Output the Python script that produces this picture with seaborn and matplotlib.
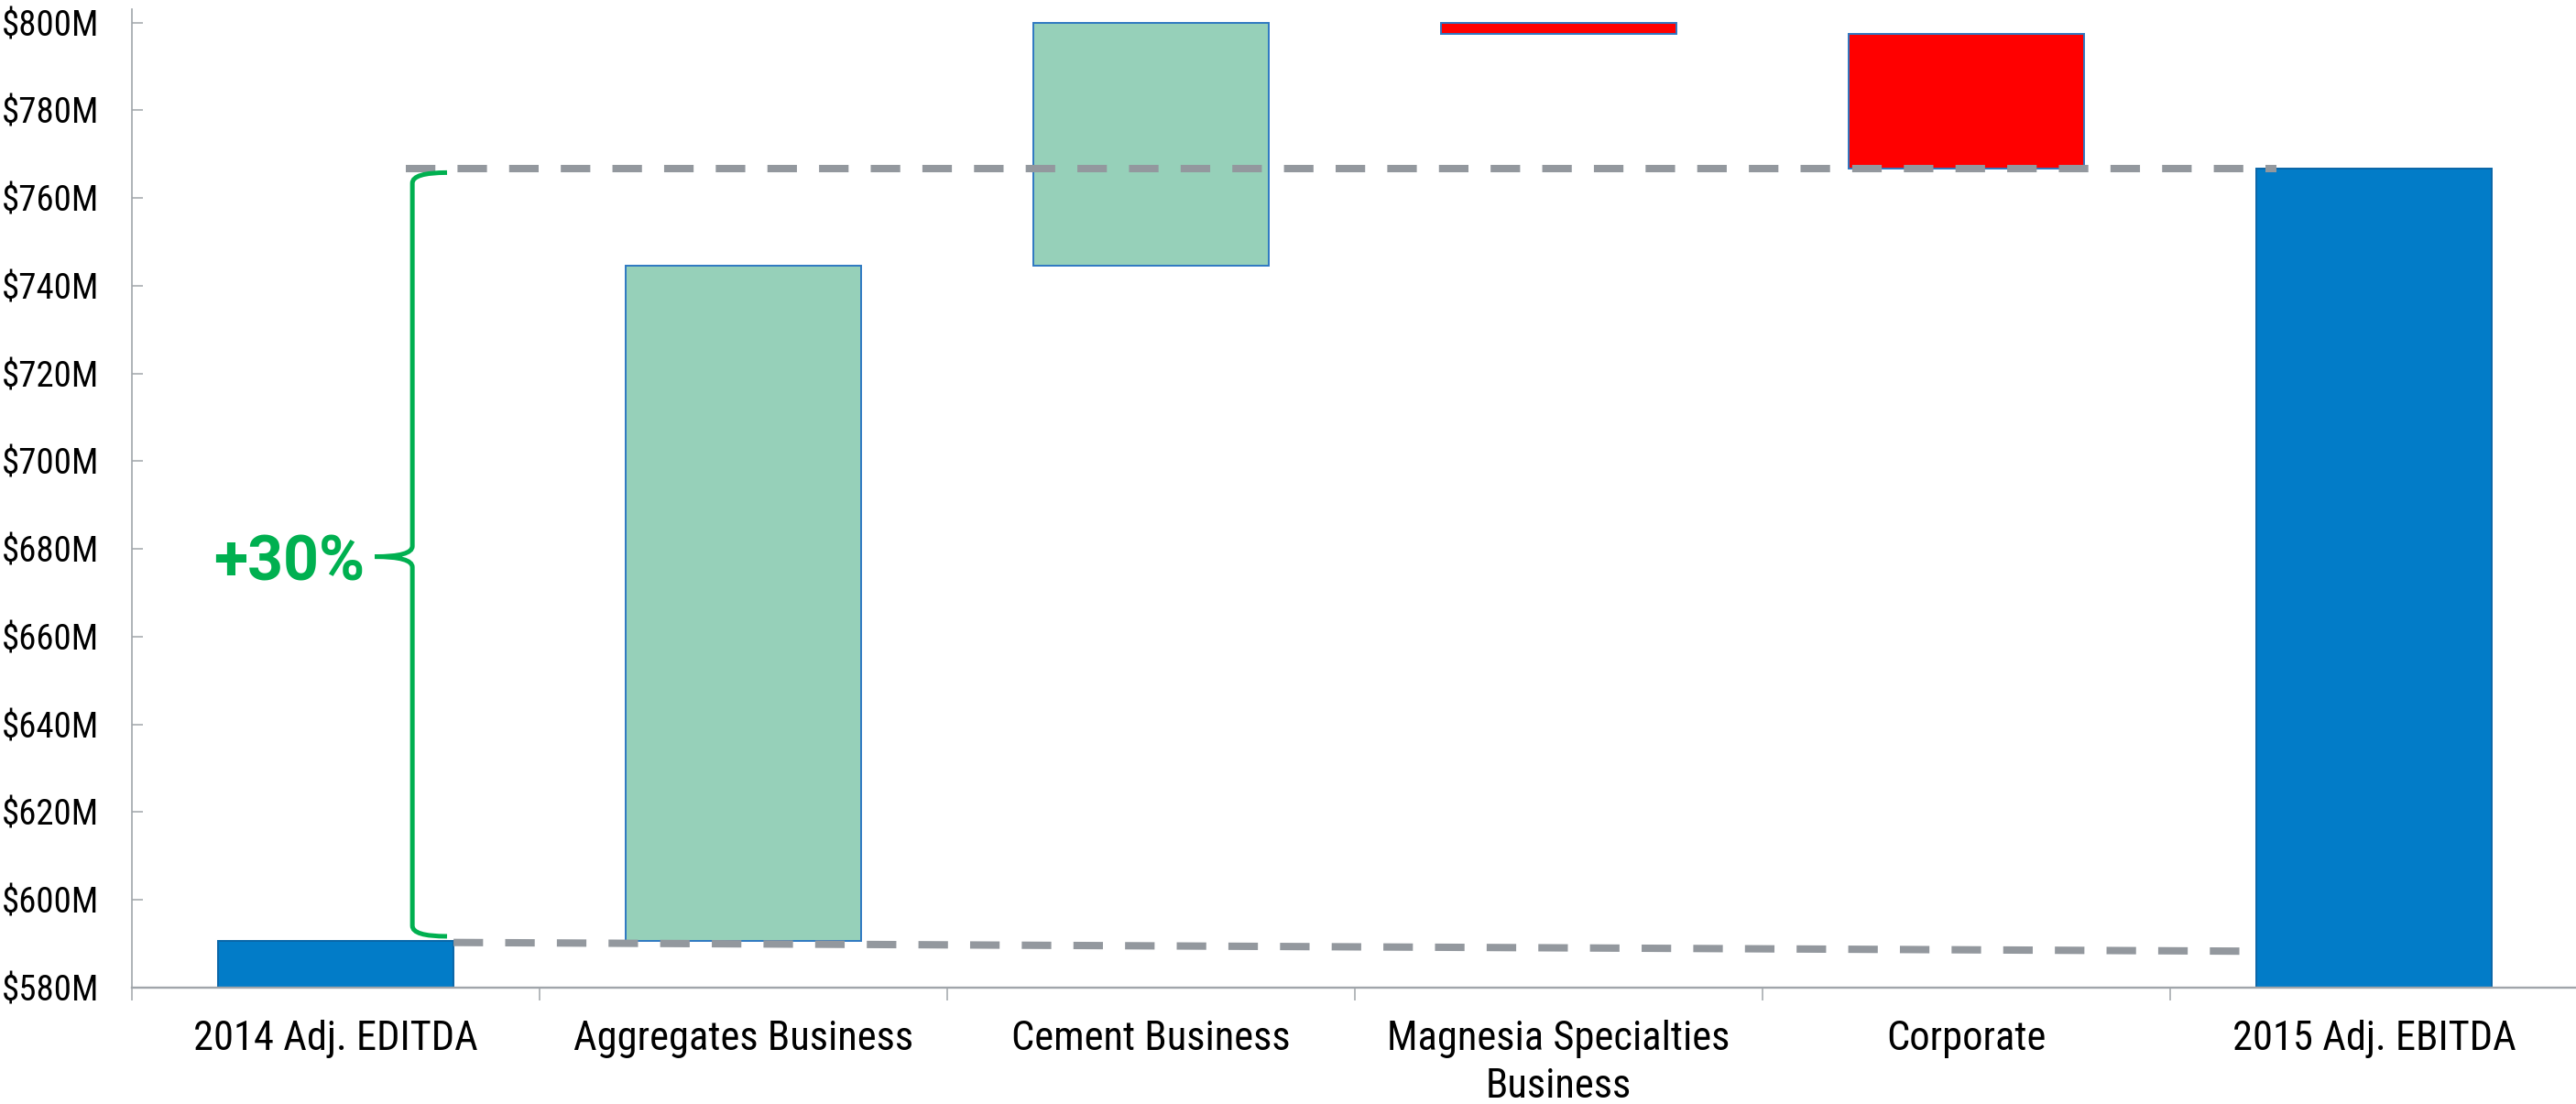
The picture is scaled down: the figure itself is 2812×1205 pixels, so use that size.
import matplotlib
matplotlib.use("Agg")
import matplotlib.pyplot as plt
from matplotlib.path import Path
from matplotlib.patches import PathPatch
from matplotlib import font_manager
import seaborn as sns
import numpy as np
import pandas as pd

# ---------------- data ----------------
categories = ["2014 Adj. EDITDA", "Aggregates Business", "Cement Business",
              "Magnesia Specialties\nBusiness", "Corporate", "2015 Adj. EBITDA"]
start_total = 590.7            # $M
changes = [153.9, 55.4, -2.5, -30.7]   # $M
end_total = 766.8              # $M
y_ticks = [580, 600, 620, 640, 660, 680, 700, 720, 740, 760, 780, 800]
y_tick_labels = [f"${v}M" for v in y_ticks]
growth_label = "+30%"

# ---------------- derived waterfall geometry ----------------
levels = np.concatenate([[start_total], start_total + np.cumsum(changes)])
bottoms = [580] + list(levels[:-1]) + [580]
heights = [start_total - 580] + list(changes) + [end_total - 580]
df = pd.DataFrame({"category": categories, "height": heights})

face_colors = ["#027CC8", "#96D0B9", "#96D0B9", "#FF0000", "#FF0000", "#027CC8"]
edge_colors = ["#0A66A8", "#2E78C2", "#2E78C2", "#2E78C2", "#2E78C2", "#0A66A8"]

# ---------------- fonts ----------------
fonts = font_manager.fontManager.ttflist
names = {f.name for f in fonts}
if "Liberation Sans Narrow" in names:
    label_font, ysize, xsize = "Liberation Sans Narrow", 30, 33
elif "Roboto Condensed" in names:
    label_font, ysize, xsize = "Roboto Condensed", 28, 32
else:
    label_font, ysize, xsize = "Roboto", 24.5, 28.5

bold_font = "DejaVu Sans"
for cand in ["Roboto", "Open Sans", "Lato", "Noto Sans"]:
    if any(f.name == cand and (f.weight == "bold" or (isinstance(f.weight, int) and f.weight >= 700))
           for f in fonts):
        bold_font = cand
        break

sns.set_theme(style="white")
plt.rcParams["font.family"] = [label_font, "DejaVu Sans"]

W, H = 2812, 1205
fig = plt.figure(figsize=(W / 100, H / 100), dpi=100)
left_px, right_px, top_px, bottom_px = 144, 2814, 10, 1078
ax = fig.add_axes([left_px / W, (H - bottom_px) / H,
                   (right_px - left_px) / W, (bottom_px - top_px) / H])

bar_w = 0.578
sns.barplot(data=df, x="category", y="height", bottom=bottoms, width=bar_w,
            errorbar=None, ax=ax, order=categories, color=face_colors[0],
            saturation=1)
for p, fc, ec in zip(ax.patches, face_colors, edge_colors):
    p.set_facecolor(fc)
    p.set_edgecolor(ec)
    p.set_linewidth(1.4)
    p.set_zorder(2)

px_per_M = 4.788
ax.set_xlim(-0.5, 5.5)
ax.set_ylim(580, 580 + (bottom_px - top_px) / px_per_M)

# ---------------- axes styling ----------------
gray = "#A0A5AA"
for s in ["top", "right"]:
    ax.spines[s].set_visible(False)
ax.spines["left"].set_color(gray)
ax.spines["left"].set_linewidth(1.2)
ax.spines["bottom"].set_color(gray)
ax.spines["bottom"].set_linewidth(1.7)

ax.set_yticks(y_ticks)
ax.set_yticklabels(y_tick_labels)
ax.tick_params(axis="y", direction="in", length=8.6, width=1.1, color=gray,
               pad=26, labelsize=ysize, labelcolor="black", left=True)

ax.set_xticks(range(len(categories)))
ax.set_xticklabels(categories, linespacing=1.3)
ax.tick_params(axis="x", which="major", length=0, pad=25, labelsize=xsize,
               labelcolor="black")
ax.set_xticks(np.arange(-0.5, len(categories) - 0.5, 1.0), minor=True)
ax.tick_params(axis="x", which="minor", direction="out", length=10, width=1.1,
               color=gray, bottom=True)
ax.set_xlabel("")
ax.set_ylabel("")
ax.grid(False)

# ---------------- connector dashed lines ----------------
dash_gray = "#93989E"
half = bar_w / 2
ax.plot([0.172, len(categories) - 1 - half + 0.05], [end_total, end_total],
        color=dash_gray, lw=5.8, dashes=(4, 3), zorder=3, dash_capstyle="butt")
ax.plot([half, len(categories) - 1 - half], [start_total - 0.4, start_total - 2.4],
        color=dash_gray, lw=5.8, dashes=(4, 3), zorder=3, dash_capstyle="butt")

# ---------------- brace + label ----------------
green = "#00B050"
xv, xe, xt = 0.188, 0.273, 0.096
y_top, y_bot = end_total - 1.0, start_total + 1.0
y_mid = (y_top + y_bot) / 2 - 0.5
c = 2.4
verts = [(xe, y_top), (xv, y_top), (xv, y_top - c),
         (xv, y_mid + c),
         (xv, y_mid), (xt, y_mid),
         (xt, y_mid), (xv, y_mid), (xv, y_mid - c),
         (xv, y_bot + c),
         (xv, y_bot), (xe, y_bot)]
codes = [Path.MOVETO, Path.CURVE3, Path.CURVE3,
         Path.LINETO,
         Path.CURVE3, Path.CURVE3,
         Path.MOVETO, Path.CURVE3, Path.CURVE3,
         Path.LINETO,
         Path.CURVE3, Path.CURVE3]
ax.add_patch(PathPatch(Path(verts, codes), facecolor="none", edgecolor=green,
                       lw=3.6, zorder=4, capstyle="butt"))
ax.text(0.071, y_mid - 5.5, growth_label, ha="right", va="baseline",
        fontsize=49, fontweight="bold", color=green, family=[bold_font, "DejaVu Sans"],
        zorder=5)

fig.savefig("out.png", dpi=100, facecolor="white")
